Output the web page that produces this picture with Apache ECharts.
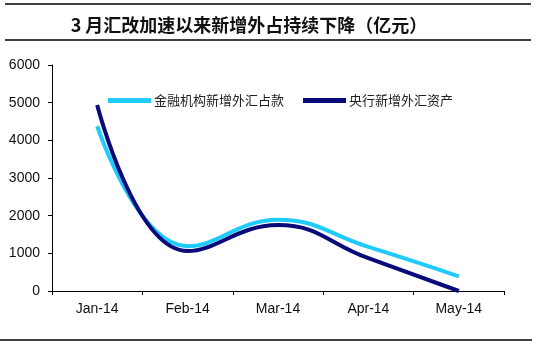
<!DOCTYPE html>
<html>
<head>
<meta charset="utf-8">
<script src="https://cdn.jsdelivr.net/npm/echarts@6/dist/echarts.min.js"></script>
<style>
html,body{margin:0;padding:0;background:#fff;}
#chart{width:536px;height:345px;}
</style>
</head>
<body>
<div id="chart"></div>
<script>
// Monthly new FX position, 100 million yuan
const months = ['Jan-14', 'Feb-14', 'Mar-14', 'Apr-14', 'May-14'];
const bankFx = [4374, 1190, 1890, 1170, 390];      // 金融机构新增外汇占款
const pbocFx = [4939, 1060, 1750, 870, 0];          // 央行新增外汇资产
const yTicks = [0, 1000, 2000, 3000, 4000, 5000, 6000];

const chart = echarts.init(document.getElementById('chart'), null, {renderer: 'canvas'});
chart.setOption({
  animation: false,
  backgroundColor: '#fff',
  title: {
    text: '3 月汇改加速以来新增外占持续下降（亿元）',
    left: 244, top: 11, textAlign: 'center',
    textStyle: {fontFamily: 'Noto Sans CJK SC', fontSize: 18, fontWeight: 'bold', color: '#111'}
  },
  graphic: [
    {type: 'line', shape: {x1: 5, y1: 4, x2: 531, y2: 4}, style: {stroke: '#000', lineWidth: 1.5}},
    {type: 'line', shape: {x1: 5, y1: 40, x2: 531, y2: 40}, style: {stroke: '#000', lineWidth: 1.5}},
    {type: 'line', shape: {x1: 0, y1: 340, x2: 532, y2: 340}, style: {stroke: '#000', lineWidth: 1.5}}
  ],
  legend: {
    top: 89, left: 103,
    itemWidth: 43, itemHeight: 5, itemGap: 19,
    icon: 'rect',
    textStyle: {fontFamily: 'Noto Sans CJK SC', fontSize: 13, color: '#222', padding: [0, 0, 0, -2]},
    data: ['金融机构新增外汇占款', '央行新增外汇资产']
  },
  grid: {left: 52, right: 32, top: 65, bottom: 54, containLabel: false},
  xAxis: {
    type: 'category',
    data: months,
    boundaryGap: true,
    axisLine: {lineStyle: {color: '#000', width: 1}},
    axisTick: {show: true, length: 4, lineStyle: {color: '#000'}},
    axisLabel: {fontFamily: 'Liberation Sans', fontSize: 14, color: '#111', margin: 11}
  },
  yAxis: {
    type: 'value',
    min: yTicks[0], max: yTicks[yTicks.length - 1], interval: 1000,
    splitLine: {show: false},
    axisLine: {show: true, lineStyle: {color: '#000', width: 1}},
    axisTick: {show: true, length: 4, lineStyle: {color: '#000'}},
    axisLabel: {fontFamily: 'Liberation Sans', fontSize: 14, color: '#111', margin: 12,
      formatter: v => String(v)}
  },
  series: [
    {
      name: '金融机构新增外汇占款', type: 'line', data: bankFx,
      smooth: 0.45, symbol: 'none',
      lineStyle: {color: '#1ECBFA', width: 4}, itemStyle: {color: '#1ECBFA'}
    },
    {
      name: '央行新增外汇资产', type: 'line', data: pbocFx,
      smooth: 0.45, symbol: 'none',
      lineStyle: {color: '#0A0A78', width: 4}, itemStyle: {color: '#0A0A78'}
    }
  ]
});
</script>
</body>
</html>
